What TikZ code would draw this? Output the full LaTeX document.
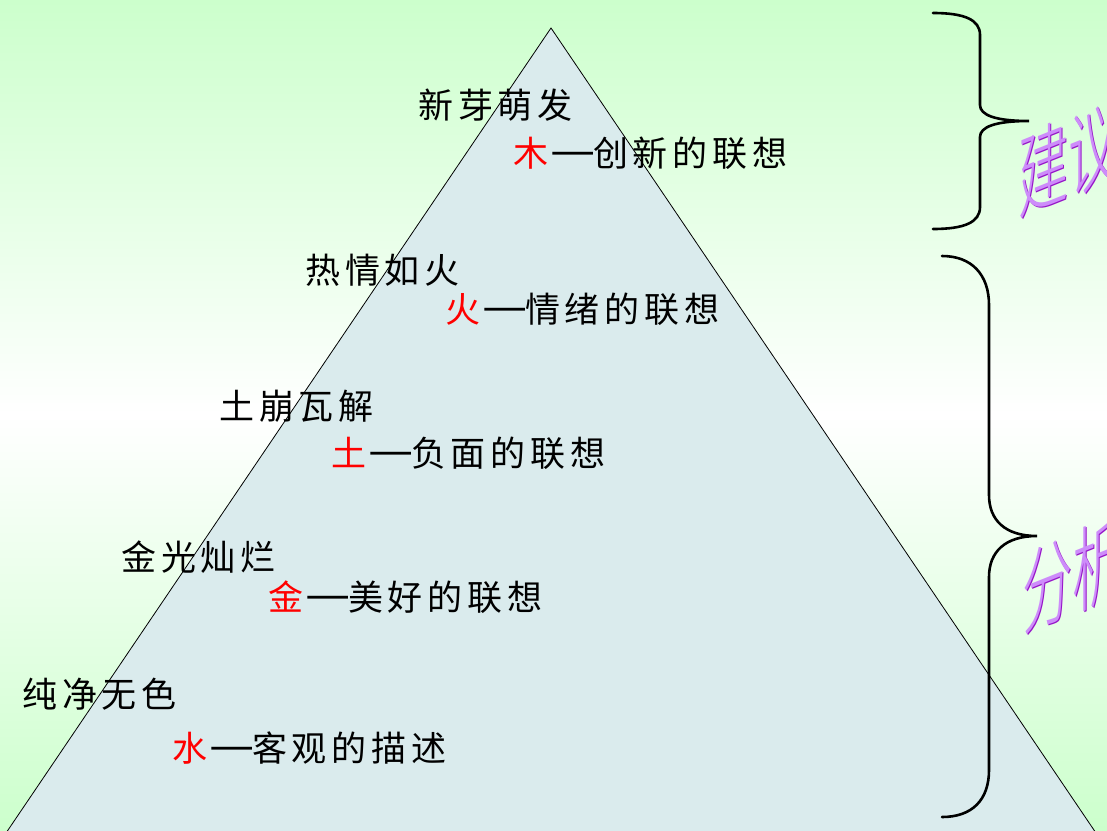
\documentclass[tikz,border=0pt]{standalone}
\usepackage{graphicx}
\usepackage{fontspec}
\newfontfamily\cjk{Noto Sans CJK SC}[UprightFont={* Light}]
\newfontfamily\cjkls[LetterSpace=14]{Noto Sans CJK SC}
\newcommand\longdash{\hspace{0.14em}\makebox[1.14em][c]{\scalebox{1.45}[1.3]{—}}}
\definecolor{bggreen}{RGB}{204,255,204}
\definecolor{trifill}{RGB}{218,235,237}
\definecolor{wordlight}{RGB}{205,140,250}
\definecolor{worddark}{RGB}{150,20,200}
\tikzset{
  txt/.style={anchor=west, inner sep=0pt, font=\cjkls\fontsize{35}{40}\selectfont, text=black},
  bracestroke/.style={line width=2.6pt, draw=black, line cap=round},
  bigword/.style={anchor=west, inner sep=0pt, font=\cjk\fontsize{93}{100}\selectfont, yslant=0.4, xscale=0.54, transform shape}
}
\begin{document}
\begin{tikzpicture}[x=1pt,y=-1pt]
\useasboundingbox (0,0) rectangle (1107,830);
\clip (0,0) rectangle (1107,830);
\shade[top color=bggreen, bottom color=bggreen, middle color=white] (0,0) rectangle (1107,830);
% pyramid
\filldraw[fill=trifill, draw=black, line width=0.8pt] (551,28) -- (1107.5,850) -- (-5.5,850) -- cycle;
% texts
\node[txt] (t1) at (418,105) {新芽萌发};
\node[txt] (t1b) at (513,153) {\textcolor{red}{木}\longdash 创新的联想};
\node[txt] (t2) at (305,270) {热情如火};
\node[txt] (t2b) at (445,309) {\textcolor{red}{火}\longdash 情绪的联想};
\node[txt] (t3) at (219,406) {土崩瓦解};
\node[txt] (t3b) at (331,453) {\textcolor{red}{土}\longdash 负面的联想};
\node[txt] (t4) at (121,557) {金光灿烂};
\node[txt] (t4b) at (268,597) {\textcolor{red}{金}\longdash 美好的联想};
\node[txt] (t5) at (22,694) {纯净无色};
\node[txt] (t5b) at (172,748) {\textcolor{red}{水}\longdash 客观的描述};
% braces
\draw[bracestroke] (933,13) .. controls (965,13) and (980,20) .. (980,35) -- (980,105)
  .. controls (980,115) and (995,121) .. (1029,121)
  .. controls (995,121) and (980,127) .. (980,137) -- (980,207)
  .. controls (980,222) and (965,229) .. (933,229);
\draw[bracestroke] (942,256) .. controls (972,256) and (989,275) .. (989,305) -- (989,495)
  .. controls (989,520) and (1005,536) .. (1037,536)
  .. controls (1005,536) and (989,552) .. (989,577) -- (989,770)
  .. controls (989,800) and (972,817) .. (942,817);
% side words
\node[bigword, text=worddark] (w1s) at (1019.5,179.5) {建议};
\node[bigword, text=wordlight] (w1) at (1018,178) {建议};
\node[bigword, text=worddark] (w2s) at (1023.5,595.5) {分析};
\node[bigword, text=wordlight] (w2) at (1022,594) {分析};
\end{tikzpicture}
\end{document}
